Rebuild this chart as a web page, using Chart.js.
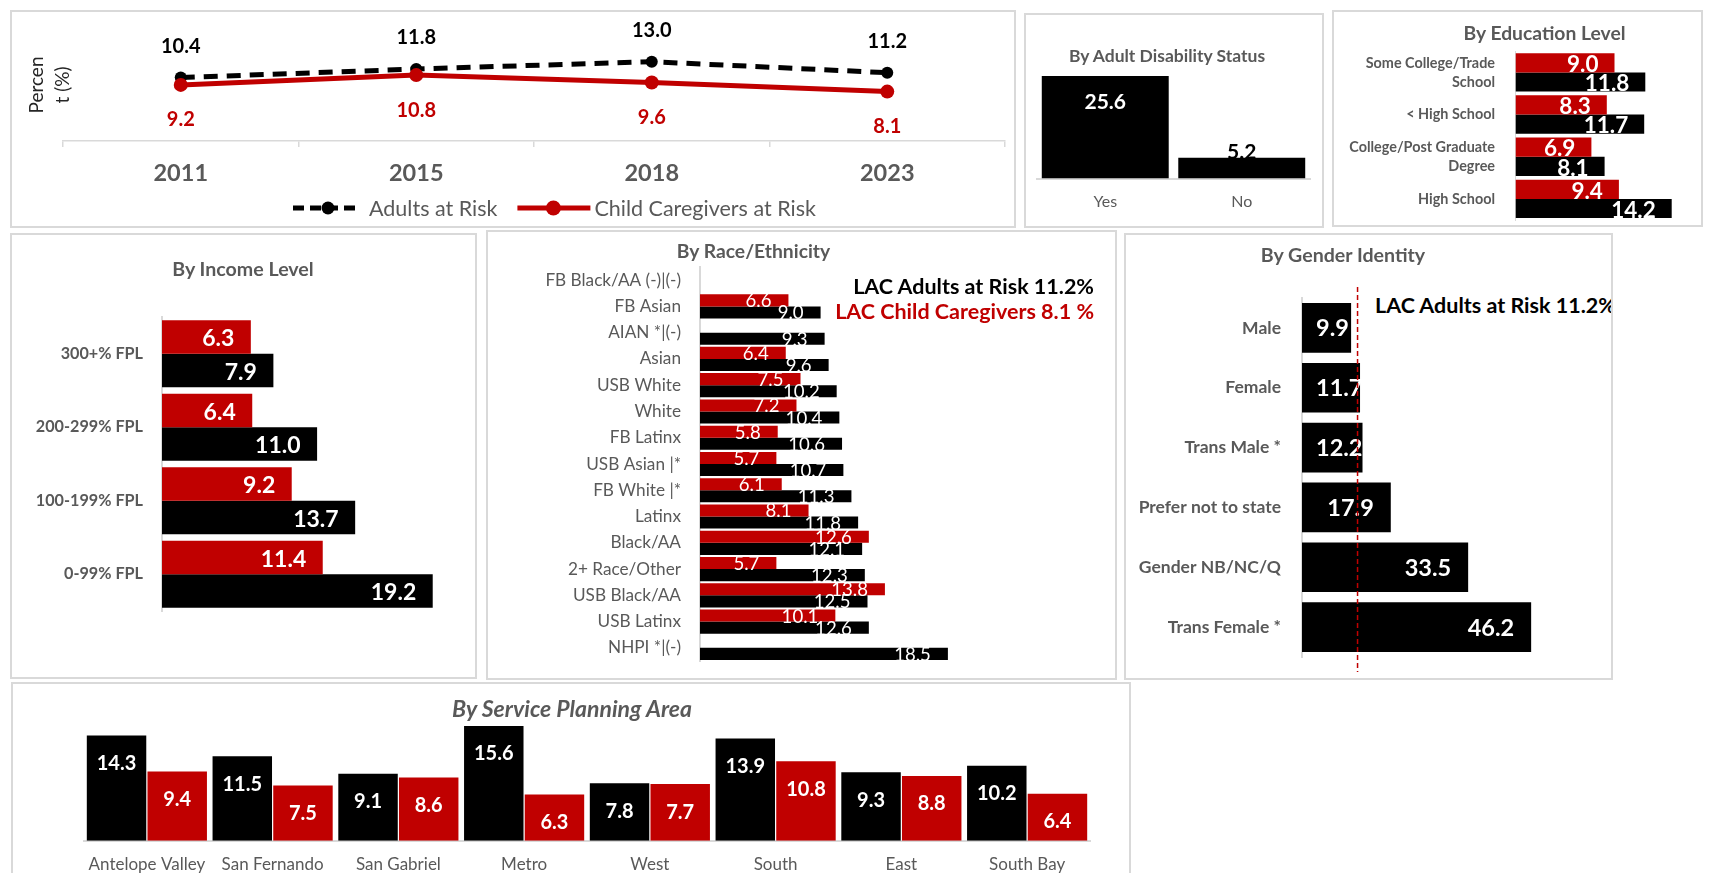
<!DOCTYPE html>
<html><head><meta charset="utf-8">
<script src="https://cdn.jsdelivr.net/npm/chart.js@4.4.0/dist/chart.umd.min.js"></script>
<style>
html,body{margin:0;padding:0;background:#fff;}
body{width:1720px;height:873px;overflow:hidden;position:relative;font-family:Lato,'Open Sans',sans-serif;}
.panel{position:absolute;border:2px solid #d9d9d9;box-sizing:border-box;background:#fff;overflow:hidden;}
.txt{position:absolute;white-space:nowrap;line-height:1;}
</style></head><body>
<script>
// ---------------- DATA ----------------
const years = ['2011', '2015', '2018', '2023'];
const adultsTrend = [10.4, 11.8, 13.0, 11.2];
const caregiversTrend = [9.2, 10.8, 9.6, 8.1];

const disabilityCats = ['Yes', 'No'];
const disabilityAdults = [25.6, 5.2];

const eduCats = [['Some College/Trade', 'School'], '< High School', ['College/Post Graduate', 'Degree'], 'High School'];
const eduCaregivers = [9.0, 8.3, 6.9, 9.4];
const eduAdults = [11.8, 11.7, 8.1, 14.2];

const incomeCats = ['300+% FPL', '200-299% FPL', '100-199% FPL', '0-99% FPL'];
const incomeCaregivers = [6.3, 6.4, 9.2, 11.4];
const incomeAdults = [7.9, 11.0, 13.7, 19.2];

const raceCats = ['FB Black/AA (-)|(-)', 'FB Asian', 'AIAN *|(-)', 'Asian', 'USB White', 'White', 'FB Latinx', 'USB Asian |*', 'FB White |*', 'Latinx', 'Black/AA', '2+ Race/Other', 'USB Black/AA', 'USB Latinx', 'NHPI *|(-)'];
const raceCaregivers = [null, 6.6, null, 6.4, 7.5, 7.2, 5.8, 5.7, 6.1, 8.1, 12.6, 5.7, 13.8, 10.1, null];
const raceAdults = [null, 9.0, 9.3, 9.6, 10.2, 10.4, 10.6, 10.7, 11.3, 11.8, 12.1, 12.3, 12.5, 12.6, 18.5];

const genderCats = ['Male', 'Female', 'Trans Male *', 'Prefer not to state', 'Gender NB/NC/Q', 'Trans Female *'];
const genderAdults = [9.9, 11.7, 12.2, 17.9, 33.5, 46.2];
const lacAdultRate = 11.2;

const spaCats = ['Antelope Valley', 'San Fernando', 'San Gabriel', 'Metro', 'West', 'South', 'East', 'South Bay'];
const spaAdults = [14.3, 11.5, 9.1, 15.6, 7.8, 13.9, 9.3, 10.2];
const spaCaregivers = [9.4, 7.5, 8.6, 6.3, 7.7, 10.8, 8.8, 6.4];

// ---------------- STYLE ----------------
const FONT = "Lato, 'Open Sans', sans-serif";
const RED = '#C00000', BLACK = '#000000', GRAY = '#595959', AXIS = '#d9d9d9';

function panel(l, t, r, b) {
  const d = document.createElement('div');
  d.className = 'panel';
  d.style.cssText = `left:${l}px;top:${t}px;width:${r - l}px;height:${b - t}px`;
  document.body.appendChild(d);
  return d;
}
function mkCanvas(x, y, w, h) {
  const c = document.createElement('canvas');
  c.width = w; c.height = h;
  c.style.cssText = `position:absolute;left:${x}px;top:${y}px;width:${w}px;height:${h}px`;
  document.body.appendChild(c);
  return c;
}
function mkText(txt, x, y, css, align, parent) {
  const d = document.createElement('div');
  d.className = 'txt';
  d.textContent = txt;
  const tx = align === 'right' ? '-100%' : (align === 'left' ? '0' : '-50%');
  d.style.cssText = `left:${x}px;top:${y}px;transform:translate(${tx},-50%);${css}`;
  (parent || document.body).appendChild(d);
  return d;
}
// fix an axis size and drop the automatic label-overflow padding
function fixW(w) { return s => { s.width = w; s.paddingTop = s.paddingBottom = s.paddingLeft = s.paddingRight = 0; }; }
function fixH(h) { return s => { s.height = h; s.paddingTop = s.paddingBottom = s.paddingLeft = s.paddingRight = 0; }; }

const base = {
  responsive: false, animation: false, devicePixelRatio: 1, events: [],
  plugins: { legend: { display: false }, tooltip: { enabled: false } }
};

// horizontal bar labels (inside end)
function hLabels(chart, dsIndex, o) {
  const ctx = chart.ctx, meta = chart.getDatasetMeta(dsIndex), data = chart.data.datasets[dsIndex].data;
  ctx.save();
  ctx.font = o.font; ctx.fillStyle = o.color; ctx.textBaseline = 'middle'; ctx.textAlign = 'right';
  meta.data.forEach((el, i) => {
    const v = data[i]; if (v == null) return;
    const t = v.toFixed(1), w = ctx.measureText(t).width;
    let right = el.x - o.pad;
    if (o.minLeft != null && right - w < el.base + o.minLeft) right = el.base + o.minLeft + w;
    ctx.fillText(t, right, el.y + (o.dy || 0));
  });
  ctx.restore();
}
// vertical bar labels
function vLabels(chart, dsIndex, o) {
  const ctx = chart.ctx, meta = chart.getDatasetMeta(dsIndex), data = chart.data.datasets[dsIndex].data;
  ctx.save();
  ctx.textBaseline = 'middle'; ctx.textAlign = 'center';
  meta.data.forEach((el, i) => {
    const v = data[i]; if (v == null) return;
    const st = typeof o === 'function' ? o(i) : o;
    ctx.font = st.font; ctx.fillStyle = st.color;
    ctx.fillText(v.toFixed(1), el.x, el.y + st.dy);
  });
  ctx.restore();
}

// ---------------- PANELS ----------------
panel(10, 10, 1016, 228);
panel(1024, 13, 1324, 228);
panel(1332, 10, 1703, 227);
panel(10, 233, 477, 679);
panel(486, 230, 1117, 680);
const genderPanel = panel(1124, 233, 1613, 680);
panel(11, 682, 1131, 880);

// ---------------- 1. TREND LINE ----------------
new Chart(mkCanvas(12, 12, 1002, 214), {
  type: 'line',
  data: {
    labels: years,
    datasets: [
      { label: 'Adults at Risk', data: adultsTrend, borderColor: BLACK, backgroundColor: BLACK, borderWidth: 5,
        borderDash: [14, 9], pointRadius: 6, pointBackgroundColor: BLACK, pointBorderWidth: 0, order: 2 },
      { label: 'Child Caregivers at Risk', data: caregiversTrend, borderColor: RED, backgroundColor: RED, borderWidth: 5,
        pointRadius: 7, pointBackgroundColor: RED, pointBorderWidth: 0, order: 1 }
    ]
  },
  options: {
    ...base,
    layout: { padding: { left: 51, right: 9, top: 5, bottom: 35 } },
    scales: {
      y: { display: false, min: 0, max: 20 },
      x: {
        offset: true,
        grid: { display: true, drawOnChartArea: false, offset: true, tickLength: 6, color: AXIS, lineWidth: 1.5 },
        border: { display: true, color: AXIS, width: 1.5 },
        ticks: { font: { family: FONT, size: 23.5, weight: 'bold' }, color: GRAY, padding: 12, maxRotation: 0 },
        afterFit: fixH(50)
      }
    }
  },
  plugins: [{
    id: 'trendLabels',
    afterDatasetsDraw(chart) {
      const ctx = chart.ctx;
      ctx.save();
      ctx.textAlign = 'center'; ctx.textBaseline = 'middle';
      ctx.font = `bold 20px ${FONT}`;
      chart.getDatasetMeta(0).data.forEach((el, i) => { ctx.fillStyle = BLACK; ctx.fillText(adultsTrend[i].toFixed(1), el.x, el.y - 31); });
      chart.getDatasetMeta(1).data.forEach((el, i) => { ctx.fillStyle = RED; ctx.fillText(caregiversTrend[i].toFixed(1), el.x, el.y + 35); });
      ctx.restore();
    },
    afterDraw(chart) {
      const ctx = chart.ctx, y = 196;
      ctx.save();
      ctx.font = `21.5px ${FONT}`; ctx.textBaseline = 'middle'; ctx.textAlign = 'left';
      ctx.strokeStyle = BLACK; ctx.lineWidth = 5; ctx.setLineDash([11, 6]);
      ctx.beginPath(); ctx.moveTo(281, y); ctx.lineTo(346, y); ctx.stroke();
      ctx.setLineDash([]);
      ctx.fillStyle = BLACK; ctx.beginPath(); ctx.arc(316, y, 6.5, 0, Math.PI * 2); ctx.fill();
      ctx.fillStyle = GRAY; ctx.fillText(chart.data.datasets[0].label, 357, y + 1);
      const w1 = ctx.measureText(chart.data.datasets[0].label).width;
      const x2 = 357 + w1 + 20;
      ctx.strokeStyle = RED; ctx.lineWidth = 5;
      ctx.beginPath(); ctx.moveTo(x2, y); ctx.lineTo(x2 + 73, y); ctx.stroke();
      ctx.fillStyle = RED; ctx.beginPath(); ctx.arc(x2 + 36, y, 7.5, 0, Math.PI * 2); ctx.fill();
      ctx.fillStyle = GRAY; ctx.fillText(chart.data.datasets[1].label, x2 + 77, y + 1);
      ctx.restore();
    }
  }]
});
mkText('Percen', 35, 85, `font:19px ${FONT};color:#262626;transform:translate(-50%,-50%) rotate(-90deg);`);
mkText('t (%)', 61, 85, `font:19px ${FONT};color:#262626;transform:translate(-50%,-50%) rotate(-90deg);`);

// ---------------- 2. DISABILITY ----------------
new Chart(mkCanvas(1026, 15, 296, 211), {
  type: 'bar',
  data: { labels: disabilityCats, datasets: [{ data: disabilityAdults, backgroundColor: BLACK, categoryPercentage: 0.93, barPercentage: 1 }] },
  options: {
    ...base,
    layout: { padding: { left: 11, right: 12, top: 43.5, bottom: 7.5 } },
    scales: {
      y: { display: false, min: 0, max: 30 },
      x: {
        grid: { display: false, drawTicks: false },
        border: { display: true, color: AXIS, width: 2 },
        ticks: { font: { family: FONT, size: 16 }, color: GRAY, padding: 13.5, maxRotation: 0 },
        afterFit: fixH(40)
      }
    }
  },
  plugins: [{
    id: 'disLabels',
    afterDatasetsDraw(chart) {
      vLabels(chart, 0, i => i === 0
        ? { font: `bold 21px ${FONT}`, color: '#fff', dy: 26 }
        : { font: `bold 21px ${FONT}`, color: BLACK, dy: -5 });
    }
  }]
});
mkText('By Adult Disability Status', 1167, 55, `font:bold 17.5px ${FONT};color:${GRAY};`);

// ---------------- 3. EDUCATION ----------------
new Chart(mkCanvas(1334, 12, 367, 213), {
  type: 'bar',
  data: {
    labels: eduCats,
    datasets: [
      { label: 'Child Caregivers', data: eduCaregivers, backgroundColor: RED, categoryPercentage: 0.91, barPercentage: 1 },
      { label: 'Adults', data: eduAdults, backgroundColor: BLACK, categoryPercentage: 0.91, barPercentage: 1 }
    ]
  },
  options: {
    ...base, indexAxis: 'y',
    layout: { padding: { left: 0, right: 9.5, top: 39.3, bottom: 5 } },
    scales: {
      x: { display: false, min: 0, max: 16 },
      y: {
        grid: { display: false, drawTicks: false },
        border: { display: true, color: AXIS, width: 1 },
        ticks: { font: { family: FONT, size: 14.4, weight: 'bold', lineHeight: 1.32 }, color: GRAY, padding: 20.5, autoSkip: false },
        afterFit: fixW(181.5)
      }
    }
  },
  plugins: [{
    id: 'eduLabels',
    afterDatasetsDraw(chart) {
      hLabels(chart, 0, { font: `bold 22.5px ${FONT}`, color: '#fff', pad: 16, dy: 2 });
      hLabels(chart, 1, { font: `bold 22.5px ${FONT}`, color: '#fff', pad: 16, dy: 2 });
    }
  }]
});
mkText('By Education Level', 1544.5, 32, `font:bold 19.3px ${FONT};color:${GRAY};`);

// ---------------- 4. INCOME ----------------
new Chart(mkCanvas(13, 236, 462, 441), {
  type: 'bar',
  data: {
    labels: incomeCats,
    datasets: [
      { label: 'Child Caregivers', data: incomeCaregivers, backgroundColor: RED, categoryPercentage: 0.91, barPercentage: 1 },
      { label: 'Adults', data: incomeAdults, backgroundColor: BLACK, categoryPercentage: 0.91, barPercentage: 1 }
    ]
  },
  options: {
    ...base, indexAxis: 'y',
    layout: { padding: { left: 0, right: 16.9, top: 81, bottom: 66 } },
    scales: {
      x: { display: false, min: 0, max: 21 },
      y: {
        grid: { display: false, drawTicks: false },
        border: { display: true, color: AXIS, width: 2 },
        ticks: { font: { family: FONT, size: 16.2, weight: 'bold' }, color: GRAY, padding: 19, autoSkip: false },
        afterFit: fixW(149)
      }
    }
  },
  plugins: [{
    id: 'incLabels',
    afterDatasetsDraw(chart) {
      hLabels(chart, 0, { font: `bold 23px ${FONT}`, color: '#fff', pad: 16.5, dy: 2 });
      hLabels(chart, 1, { font: `bold 23px ${FONT}`, color: '#fff', pad: 16.5, dy: 2 });
    }
  }]
});
mkText('By Income Level', 243, 268, `font:bold 19.6px ${FONT};color:${GRAY};`);

// ---------------- 5. RACE / ETHNICITY ----------------
new Chart(mkCanvas(488, 232, 627, 446), {
  type: 'bar',
  data: {
    labels: raceCats,
    datasets: [
      { label: 'Child Caregivers', data: raceCaregivers, backgroundColor: RED, categoryPercentage: 0.92, barPercentage: 1 },
      { label: 'Adults', data: raceAdults, backgroundColor: BLACK, categoryPercentage: 0.92, barPercentage: 1 }
    ]
  },
  options: {
    ...base, indexAxis: 'y',
    layout: { padding: { left: 0, right: 147, top: 35, bottom: 17 } },
    scales: {
      x: { display: false, min: 0, max: 20 },
      y: {
        grid: { display: false, drawTicks: false },
        border: { display: true, color: AXIS, width: 2 },
        ticks: { font: { family: FONT, size: 17.2 }, color: GRAY, padding: 19, autoSkip: false },
        afterFit: fixW(212)
      }
    }
  },
  plugins: [{
    id: 'raceLabels',
    afterDatasetsDraw(chart) {
      hLabels(chart, 0, { font: `18.6px ${FONT}`, color: '#fff', pad: 17, dy: 1 });
      hLabels(chart, 1, { font: `18.6px ${FONT}`, color: '#fff', pad: 17, dy: 1 });
    }
  }]
});
mkText('By Race/Ethnicity', 753.5, 250, `font:bold 19.3px ${FONT};color:${GRAY};`);
mkText('LAC Adults at Risk 11.2%', 1094, 286, `font:bold 21.5px ${FONT};color:${BLACK};`, 'right');
mkText('LAC Child Caregivers 8.1 %', 1094, 311, `font:bold 21.5px ${FONT};color:${RED};`, 'right');

// ---------------- 6. GENDER ----------------
new Chart(mkCanvas(1126, 235, 485, 443), {
  type: 'bar',
  data: { labels: genderCats, datasets: [{ label: 'Adults', data: genderAdults, backgroundColor: BLACK, categoryPercentage: 0.83, barPercentage: 1 }] },
  options: {
    ...base, indexAxis: 'y',
    layout: { padding: { left: 0, right: 11.4, top: 63, bottom: 21 } },
    scales: {
      x: { display: false, min: 0, max: 60 },
      y: {
        grid: { display: false, drawTicks: false },
        border: { display: true, color: AXIS, width: 2 },
        ticks: { font: { family: FONT, size: 17.5, weight: 'bold' }, color: GRAY, padding: 21, autoSkip: false },
        afterFit: fixW(176)
      }
    }
  },
  plugins: [{
    id: 'genLabels',
    afterDatasetsDraw(chart) {
      hLabels(chart, 0, { font: `bold 23.5px ${FONT}`, color: '#fff', pad: 17, minLeft: 14, dy: 1 });
      const ctx = chart.ctx, x = chart.scales.x.getPixelForValue(lacAdultRate);
      ctx.save();
      ctx.strokeStyle = RED; ctx.lineWidth = 1.5; ctx.setLineDash([5, 3]);
      ctx.beginPath(); ctx.moveTo(x, 52); ctx.lineTo(x, 437); ctx.stroke();
      ctx.restore();
    }
  }]
});
mkText('By Gender Identity', 1343, 254, `font:bold 19.6px ${FONT};color:${GRAY};`);
mkText('LAC Adults at Risk 11.2%', 249, 70, `font:bold 21.5px ${FONT};color:${BLACK};`, 'left', genderPanel);

// ---------------- 7. SERVICE PLANNING AREA ----------------
new Chart(mkCanvas(13, 684, 1115, 189), {
  type: 'bar',
  data: {
    labels: spaCats,
    datasets: [
      { label: 'Adults', data: spaAdults, backgroundColor: BLACK, categoryPercentage: 0.965, barPercentage: 0.98 },
      { label: 'Child Caregivers', data: spaCaregivers, backgroundColor: RED, categoryPercentage: 0.965, barPercentage: 0.98 }
    ]
  },
  options: {
    ...base,
    layout: { padding: { left: 71, right: 38, top: 24.4, bottom: 0 } },
    scales: {
      y: { display: false, min: 0, max: 18 },
      x: {
        grid: { display: false, drawTicks: false },
        border: { display: true, color: AXIS, width: 2 },
        ticks: { font: { family: FONT, size: 17 }, color: GRAY, padding: 13.5, maxRotation: 0, autoSkip: false },
        afterFit: fixH(32.3)
      }
    }
  },
  plugins: [{
    id: 'spaLabels',
    afterDatasetsDraw(chart) {
      vLabels(chart, 0, { font: `bold 20px ${FONT}`, color: '#fff', dy: 28 });
      vLabels(chart, 1, { font: `bold 20px ${FONT}`, color: '#fff', dy: 28 });
    }
  }]
});
mkText('By Service Planning Area', 572, 708, `font:italic bold 23px ${FONT};color:${GRAY};`);
</script>
</body></html>
